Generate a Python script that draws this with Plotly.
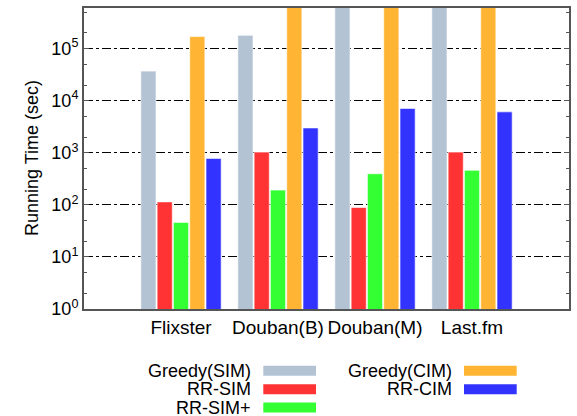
import plotly.graph_objects as go

categories = ["Flixster", "Douban(B)", "Douban(M)", "Last.fm"]
series_names = ["Greedy(SIM)", "RR-SIM", "RR-SIM+", "Greedy(CIM)", "RR-CIM"]
greedy_sim = [3.7e4, 1.8e5, 1e6, 1e6]
rr_sim = [114, 1030, 89, 1030]
rr_sim_plus = [46, 192, 395, 460]
greedy_cim = [1.7e5, 1e6, 1e6, 1e6]
rr_cim = [780, 3000, 7100, 6100]
colors = ["#B3C3D4", "#FF3333", "#33FF33", "#FFB533", "#3333FF"]
tick_vals = [1, 10, 100, 1000, 1e4, 1e5]
tick_text = ["10<sup>0</sup>", "10<sup>1</sup>", "10<sup>2</sup>", "10<sup>3</sup>",
             "10<sup>4</sup>", "10<sup>5</sup>"]
y_title = "Running Time (sec)"

values = [greedy_sim, rr_sim, rr_sim_plus, greedy_cim, rr_cim]

W, H = 577, 416
ML, MR, MT, MB = 84, 8, 8, 107
FONT = "Liberation Sans, Arial, sans-serif"

fig = go.Figure()
for name, vals, col in zip(series_names, values, colors):
    fig.add_trace(go.Bar(x=categories, y=vals, name=name, marker_color=col,
                         marker_line=dict(color="rgba(255,255,255,0.6)", width=1),
                         showlegend=False))

fig.update_layout(
    width=W, height=H, margin=dict(l=ML, r=MR, t=MT, b=MB, autoexpand=False),
    paper_bgcolor="white", plot_bgcolor="white",
    barmode="group", bargap=0.16, bargroupgap=0.07,
    font=dict(family=FONT, size=18, color="black"),
)
fig.update_xaxes(type="category", range=[-1, 4], showline=True, linecolor="#555",
                 linewidth=2, mirror=True, ticks="", showgrid=False, automargin=False,
                 tickfont=dict(size=19))
fig.update_yaxes(type="log", range=[0, 5.78], showline=True, linecolor="#555",
                 linewidth=2, mirror="ticks", ticks="inside", ticklen=5,
                 tickcolor="#555", tickvals=tick_vals, ticktext=tick_text,
                 showgrid=True, gridcolor="black", griddash="dashdot", gridwidth=1,
                 zeroline=False, automargin=False,
                 minor=dict(ticks="inside", ticklen=3, tickcolor="#555",
                            dtick="D2", showgrid=False),
                 tickfont=dict(size=18))

pw = W - ML - MR
ph = H - MT - MB

def px(x):
    return (x - ML) / pw

def py(y):
    return (H - MB - y) / ph

# y-axis title
fig.add_annotation(x=px(32), y=py(158), xref="paper", yref="paper", text=y_title,
                   textangle=-90, showarrow=False, xanchor="center", yanchor="middle",
                   font=dict(size=18, family=FONT))

# manual legend (swatch to the right of right-aligned text)
legend_items = [(0, 0), (1, 0), (2, 0), (3, 1), (4, 1)]
row_y = [370.7, 389.3, 407.5]
col_text_right = [251.7, 452.7]
col_sw = [(263.3, 316.0), (464.0, 516.7)]
rows_in_col = [0, 0]
for idx, col in legend_items:
    r = rows_in_col[col]
    rows_in_col[col] += 1
    yc = row_y[r]
    fig.add_annotation(x=px(col_text_right[col]), y=py(yc), xref="paper", yref="paper",
                       text=series_names[idx], showarrow=False, xanchor="right",
                       yanchor="middle", borderpad=0,
                       font=dict(size=18, family=FONT))
    x0, x1 = col_sw[col]
    fig.add_shape(type="rect", xref="paper", yref="paper", x0=px(x0), x1=px(x1),
                  y0=py(yc + 5), y1=py(yc - 5), fillcolor=colors[idx],
                  line=dict(width=0))

fig.write_html("out.html", config={"displayModeBar": False},
               post_script="document.body.style.margin='0';document.body.style.overflow='hidden';")
